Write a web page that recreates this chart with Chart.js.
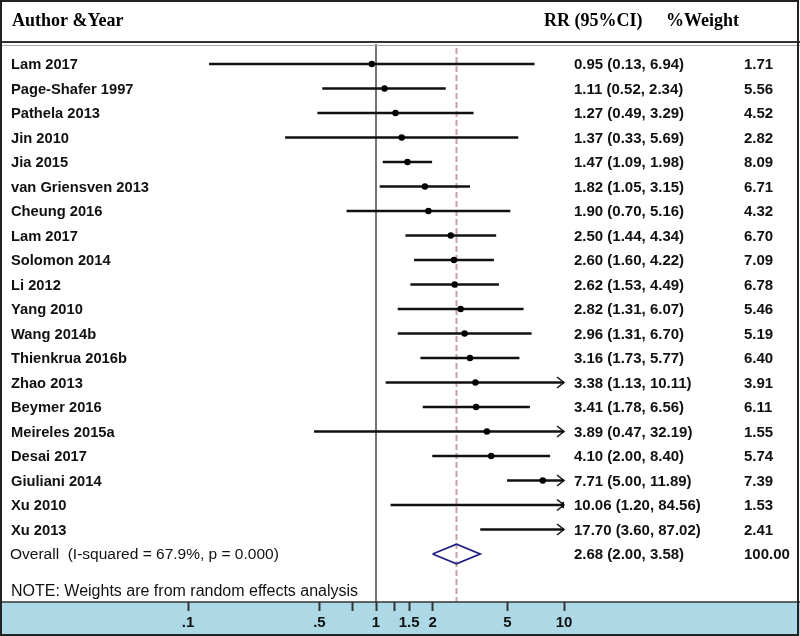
<!DOCTYPE html>
<html>
<head>
<meta charset="utf-8">
<script src="https://cdn.jsdelivr.net/npm/chart.js@4"></script>
<style>
html,body{margin:0;padding:0;background:#fff;}
canvas{display:block;}
</style>
</head>
<body>
<canvas id="c" width="800" height="636"></canvas>
<script>
// ---- data ----
const studies = ['Lam 2017','Page-Shafer 1997','Pathela 2013','Jin 2010','Jia 2015','van Griensven 2013','Cheung 2016','Lam 2017','Solomon 2014','Li 2012','Yang 2010','Wang 2014b','Thienkrua 2016b','Zhao 2013','Beymer 2016','Meireles 2015a','Desai 2017','Giuliani 2014','Xu 2010','Xu 2013'];
const rr      = [0.95,1.11,1.27,1.37,1.47,1.82,1.90,2.50,2.60,2.62,2.82,2.96,3.16,3.38,3.41,3.89,4.10,7.71,10.06,17.70];
const ciLow   = [0.13,0.52,0.49,0.33,1.09,1.05,0.70,1.44,1.60,1.53,1.31,1.31,1.73,1.13,1.78,0.47,2.00,5.00,1.20,3.60];
const ciHigh  = [6.94,2.34,3.29,5.69,1.98,3.15,5.16,4.34,4.22,4.49,6.07,6.70,5.77,10.11,6.56,32.19,8.40,11.89,84.56,87.02];
const weights = [1.71,5.56,4.52,2.82,8.09,6.71,4.32,6.70,7.09,6.78,5.46,5.19,6.40,3.91,6.11,1.55,5.74,7.39,1.53,2.41];
const overallLabel = 'Overall  (I-squared = 67.9%, p = 0.000)';
const overallRR = 2.68, overallLow = 2.00, overallHigh = 3.58, overallWeight = 100.00;
const noteText = 'NOTE: Weights are from random effects analysis';
const tickValues = [0.1, 0.5, 0.75, 1, 1.25, 1.5, 2, 5, 10];
const tickLabels = ['.1', '.5', '', '1', '', '1.5', '2', '5', '10'];
const headers = ['Author &Year', 'RR (95%CI)', '%Weight'];

// ---- layout constants ----
const X_MIN = 0.1, X_MAX = 10;
const overallRow = studies.length;      // row index of the overall line
const noteRow = studies.length + 1.55;
const Y_MIN = -0.816, Y_MAX = 21.96;
const SANS = '"Liberation Sans", Arial, Helvetica, sans-serif';
const SERIF = '"Liberation Serif", "Times New Roman", serif';
const fmt = v => v.toFixed(2);

const decor = {
  id: 'decor',
  beforeDraw(chart) {
    const ctx = chart.ctx, ca = chart.chartArea;
    ctx.save();
    ctx.fillStyle = '#fff';
    ctx.fillRect(0, 0, chart.width, chart.height);
    ctx.fillStyle = '#add8e6';
    ctx.fillRect(0, ca.bottom, chart.width, chart.height - ca.bottom);
    ctx.restore();
  },
  beforeDatasetsDraw(chart) {
    const ctx = chart.ctx, ca = chart.chartArea, xs = chart.scales.x;
    ctx.save();
    const x1 = xs.getPixelForValue(1);
    ctx.strokeStyle = '#444'; ctx.lineWidth = 1.5;
    ctx.beginPath(); ctx.moveTo(x1, ca.top); ctx.lineTo(x1, ca.bottom); ctx.stroke();
    const xo = xs.getPixelForValue(overallRR);
    ctx.strokeStyle = '#c9a0a6'; ctx.lineWidth = 2; ctx.setLineDash([6, 3]);
    ctx.beginPath(); ctx.moveTo(xo, ca.top + 4); ctx.lineTo(xo, ca.bottom); ctx.stroke();
    ctx.restore();
  },
  afterDatasetsDraw(chart) {
    const ctx = chart.ctx, xs = chart.scales.x, ys = chart.scales.y;
    ctx.save();
    ctx.strokeStyle = '#111'; ctx.lineWidth = 1.5;
    const tip = xs.getPixelForValue(X_MAX);
    ciHigh.forEach((h, i) => {
      if (h > X_MAX) {
        const y = ys.getPixelForValue(i);
        ctx.beginPath();
        ctx.moveTo(tip - 7, y - 5.5); ctx.lineTo(tip, y); ctx.lineTo(tip - 7, y + 5.5);
        ctx.stroke();
      }
    });
    ctx.restore();
  },
  afterDraw(chart) {
    const ctx = chart.ctx, ca = chart.chartArea, ys = chart.scales.y;
    const W = chart.width, H = chart.height;
    ctx.save();
    ctx.fillStyle = '#000';
    ctx.textBaseline = 'middle';
    ctx.font = 'bold 18px ' + SERIF;
    ctx.fillText(headers[0], 12, 21);
    ctx.fillText(headers[1], 544, 21);
    ctx.fillText(headers[2], 666, 21);
    ctx.strokeStyle = '#333'; ctx.lineWidth = 2;
    ctx.beginPath(); ctx.moveTo(0, 42); ctx.lineTo(W, 42); ctx.stroke();
    ctx.strokeStyle = '#aaa'; ctx.lineWidth = 1;
    ctx.beginPath(); ctx.moveTo(0, 45.5); ctx.lineTo(W, 45.5); ctx.stroke();
    ctx.fillStyle = '#111';
    studies.forEach((s, i) => {
      const y = ys.getPixelForValue(i) + 1;
      ctx.font = 'bold 14.7px ' + SANS;
      ctx.fillText(s, 11, y);
      ctx.font = 'bold 15px ' + SANS;
      ctx.fillText(fmt(rr[i]) + ' (' + fmt(ciLow[i]) + ', ' + fmt(ciHigh[i]) + ')', 574, y);
      ctx.fillText(fmt(weights[i]), 744, y);
    });
    const yo = ys.getPixelForValue(overallRow) + 1;
    ctx.font = '15.5px ' + SANS;
    ctx.fillText(overallLabel, 10, yo);
    ctx.font = 'bold 15px ' + SANS;
    ctx.fillText(fmt(overallRR) + ' (' + fmt(overallLow) + ', ' + fmt(overallHigh) + ')', 574, yo);
    ctx.fillText(fmt(overallWeight), 744, yo);
    ctx.font = '16px ' + SANS;
    ctx.fillText(noteText, 11, ys.getPixelForValue(noteRow));
    ctx.strokeStyle = '#333'; ctx.lineWidth = 1.5;
    ctx.beginPath(); ctx.moveTo(0, ca.bottom); ctx.lineTo(W, ca.bottom); ctx.stroke();
    ctx.strokeStyle = '#222'; ctx.lineWidth = 2;
    ctx.strokeRect(1, 1, W - 3, H - 2);
    ctx.restore();
  }
};

const diamond = [
  {x: overallLow, y: overallRow},
  {x: overallRR, y: overallRow - 0.4},
  {x: overallHigh, y: overallRow},
  {x: overallRR, y: overallRow + 0.4},
  {x: overallLow, y: overallRow}
];

new Chart(document.getElementById('c'), {
  type: 'bar',
  data: {
    datasets: [
      {
        type: 'bar',
        indexAxis: 'y',
        data: studies.map((s, i) => ({x: [ciLow[i], ciHigh[i]], y: i})),
        backgroundColor: '#111',
        borderWidth: 0,
        barThickness: 2,
        clip: 0,
        order: 3
      },
      {
        type: 'scatter',
        data: rr.map((v, i) => ({x: v, y: i})),
        backgroundColor: '#000',
        borderColor: '#000',
        pointRadius: 3.2,
        borderWidth: 0,
        clip: 0,
        order: 1
      },
      {
        type: 'scatter',
        data: diamond,
        showLine: true,
        borderColor: '#1f1f85',
        borderWidth: 1.8,
        pointRadius: 0,
        fill: false,
        tension: 0,
        order: 2
      }
    ]
  },
  options: {
    responsive: false,
    animation: false,
    events: [],
    layout: {padding: {left: 188, right: 236, top: 44, bottom: 0}},
    plugins: {legend: {display: false}, tooltip: {enabled: false}, title: {display: false}},
    scales: {
      x: {
        type: 'logarithmic',
        position: 'bottom',
        min: X_MIN,
        max: X_MAX,
        bounds: 'data',
        offset: false,
        afterBuildTicks(scale) { scale.ticks = tickValues.map(v => ({value: v})); },
        afterFit(scale) { scale.height = 34; },
        grid: {display: true, offset: false, drawOnChartArea: false, drawTicks: true, tickLength: 9, tickColor: '#333', tickWidth: 2},
        border: {display: false},
        ticks: {
          autoSkip: false, maxRotation: 0, padding: 3, color: '#111',
          font: {family: SANS, size: 15, weight: 'bold'},
          callback: (v, i) => tickLabels[i]
        }
      },
      y: {
        type: 'linear',
        display: false,
        reverse: true,
        offset: false,
        grace: 0,
        bounds: 'data',
        grid: {offset: false},
        min: Y_MIN,
        max: Y_MAX
      }
    }
  },
  plugins: [decor]
});
</script>
</body>
</html>
